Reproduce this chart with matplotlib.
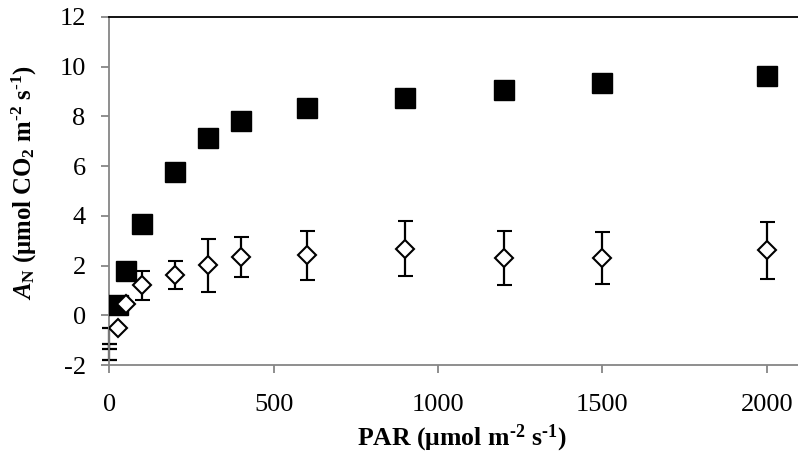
import numpy as np
import matplotlib.pyplot as plt

# light response data
par = [25, 50, 100, 200, 300, 400, 600, 900, 1200, 1500, 2000]
an_closed = [0.4, 1.8, 3.66, 5.78, 7.13, 7.83, 8.33, 8.75, 9.08, 9.36, 9.62]
err_closed = [0.1, 0.1, 0.2, 0.3, 0.3, 0.2, 0.2, 0.2, 0.2, 0.2, 0.2]
an_open = [-0.5, 0.44, 1.2, 1.61, 2.01, 2.33, 2.41, 2.68, 2.31, 2.31, 2.62]
err_open = [0.0, 0.0, 0.6, 0.57, 1.07, 0.8, 1.0, 1.1, 1.08, 1.04, 1.15]

# dark points at PAR = 0 (only the bars are visible)
par_dark = [0, 0]
an_dark = [-1.17, -1.27]
err_dark = [0.64, 0.1]

plt.rcParams['font.family'] = ['Liberation Serif', 'DejaVu Serif']
plt.rcParams['axes.unicode_minus'] = False
plt.rcParams['mathtext.fontset'] = 'custom'
plt.rcParams['mathtext.rm'] = 'Liberation Serif:bold'
plt.rcParams['mathtext.bf'] = 'Liberation Serif:bold'
plt.rcParams['mathtext.it'] = 'Liberation Serif:italic:bold'
if 'mathtext.bfit' in plt.rcParams:
    plt.rcParams['mathtext.bfit'] = 'Liberation Serif:italic:bold'
    a_sym = '\\mathbfit{A}'
else:
    a_sym = '\\mathit{A}'

fig = plt.figure(figsize=(7.98, 4.54), dpi=100)
ax = fig.add_axes([0.137, 0.196, 0.863, 0.7666])

gray = '#868686'

ax.errorbar(par_dark, an_dark, yerr=err_dark, fmt='none', ecolor='black',
            elinewidth=1.6, capsize=5.4, capthick=1.6, clip_on=False, zorder=2)
ax.errorbar(par, an_closed, yerr=err_closed, fmt='s', color='black',
            markersize=14.5, elinewidth=1.6, capsize=5.4, capthick=1.6, zorder=3)
ax.errorbar(par, an_open, yerr=err_open, fmt='D', color='black',
            markerfacecolor='white', markeredgecolor='black', markeredgewidth=1.5,
            markersize=9.0, elinewidth=1.6, capsize=5.4, capthick=1.6, zorder=4)

ax.set_xlim(0, 2095)
ax.set_ylim(-2, 12)
ax.set_xticks([0, 500, 1000, 1500, 2000])
ax.set_yticks(np.arange(-2, 13, 2))

ax.spines['right'].set_visible(False)
ax.spines['top'].set_color('black')
ax.spines['top'].set_linewidth(1.3)
for s in ['left', 'bottom']:
    ax.spines[s].set_color(gray)
    ax.spines[s].set_linewidth(1.3)

ax.tick_params(axis='both', direction='out', color=gray, width=1.3, length=6,
               labelsize=19)
ax.tick_params(axis='y', pad=11)
ax.tick_params(axis='x', pad=15)

ax.set_xlabel('PAR (μmol m$^{\u2010\\mathbf{2}}$ s$^{\u2010\\mathbf{1}}$)',
              fontsize=18.5, fontweight='bold')
ax.set_ylabel('$' + a_sym + '_{\\mathrm{N}}$ (μmol CO$_{2}$ m$^{\u2010\\mathbf{2}}$ s$^{\u2010\\mathbf{1}}$)',
              fontsize=17.8, fontweight='bold')
ax.xaxis.set_label_coords(0.512, -0.165)
ax.yaxis.set_label_coords(-0.102, 0.523)

fig.savefig('out.png', dpi=100)
